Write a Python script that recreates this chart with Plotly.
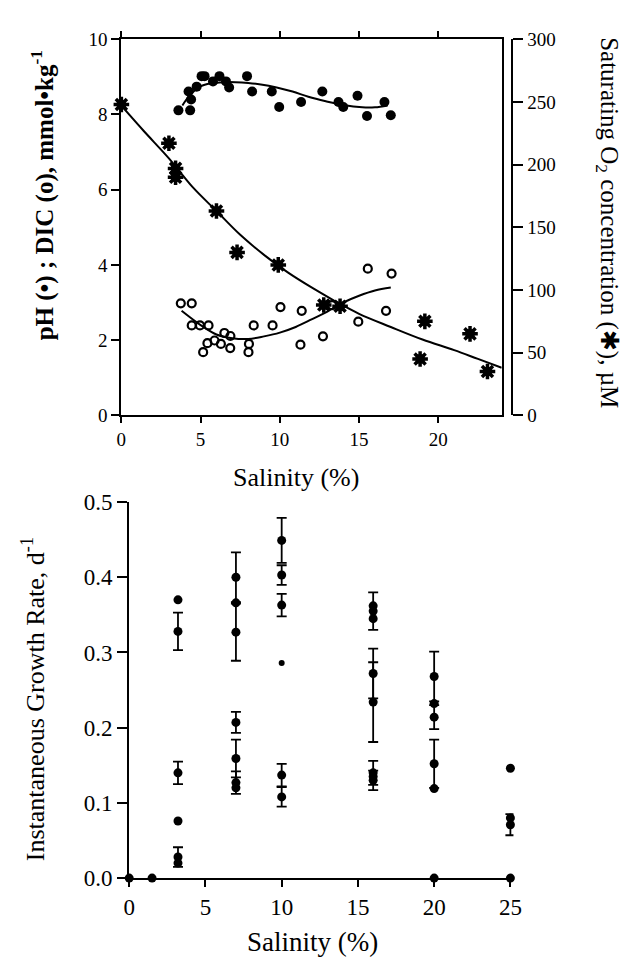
import plotly.graph_objects as go

W, H = 629, 971
FONT = "Liberation Serif"

# ---------------- upper panel: pH, DIC and saturating O2 vs salinity ----------------
ph_salinity = [3.6, 4.34, 4.24, 4.4, 4.75, 5.06, 5.25, 5.78, 6.19, 6.6, 6.8, 7.93, 8.25,
               9.49, 9.96, 11.34, 12.68, 13.7, 14.0, 14.9, 15.5, 16.6, 17.0]
ph_values = [8.11, 8.11, 8.61, 8.4, 8.74, 9.02, 9.02, 8.88, 9.02, 8.88, 8.72, 9.02, 8.61,
             8.61, 8.2, 8.33, 8.61, 8.33, 8.2, 8.5, 7.96, 8.33, 7.98]

dic_salinity = [3.75, 4.44, 4.44, 4.96, 5.5, 5.16, 5.43, 5.88, 6.28, 6.5, 6.88, 6.87, 8.05,
                8.02, 8.35, 9.54, 10.04, 11.38, 11.3, 12.72, 13.3, 14.95, 15.55, 16.7, 17.05]
dic_values = [2.98, 2.98, 2.39, 2.39, 2.39, 1.68, 1.92, 1.99, 1.9, 2.19, 2.11, 1.79, 1.9,
              1.68, 2.39, 2.39, 2.88, 2.78, 1.88, 2.1, 2.93, 2.49, 3.9, 2.78, 3.77]

o2_salinity = [0.0, 3.0, 3.42, 3.42, 6.0, 7.3, 9.9, 12.77, 13.8, 19.15, 18.85, 22.0, 23.1]
o2_values = [248, 217, 197, 190, 163, 130, 120, 88, 87, 75, 45, 65, 35]

# fitted trend lines
ph_fit_x = [3.85, 4.3, 4.9, 5.7, 6.5, 7.2, 8.0, 8.8, 9.8, 10.8, 11.8, 12.9, 14.0, 15.2, 16.0, 16.8]
ph_fit_y = [8.24, 8.5, 8.73, 8.83, 8.86, 8.86, 8.84, 8.8, 8.72, 8.61, 8.47, 8.35, 8.25, 8.19, 8.19, 8.24]

dic_fit_x = [3.8, 5.0, 6.0, 7.0, 8.0, 9.0, 10.0, 11.0, 12.0, 13.0, 14.0, 15.0, 16.0, 17.0]
dic_fit_y = [2.78, 2.4, 2.15, 2.05, 2.03, 2.1, 2.2, 2.35, 2.55, 2.76, 3.0, 3.18, 3.32, 3.4]

o2_fit_x = [0, 1.4, 3.0, 4.5, 6.0, 7.5, 9.0, 10.5, 12.0, 13.5, 15.0, 17.0, 19.0, 21.0, 22.5, 24.0]
o2_fit_y = [247, 227, 205, 182, 163, 144, 128, 114, 102, 91, 81, 70.5, 60.5, 52, 45, 38]

top_x_ticks = [0, 5, 10, 15, 20]
left_y_ticks = [0, 2, 4, 6, 8, 10]
right_y_ticks = [0, 50, 100, 150, 200, 250, 300]

# ---------------- lower panel: instantaneous growth rate ----------------
# means with symmetric error bars
rate_err_salinity = [3.2, 3.2, 3.2, 7, 7, 7, 7, 7, 10, 10, 10, 10, 10,
                     16, 16, 16, 16, 16, 20, 20, 20, 25]
rate_err_values = [0.328, 0.140, 0.028, 0.400, 0.327, 0.207, 0.159, 0.127, 0.449, 0.403, 0.363, 0.137, 0.108,
                   0.355, 0.272, 0.234, 0.140, 0.130, 0.268, 0.214, 0.152, 0.071]
rate_err = [0.025, 0.015, 0.013, 0.033, 0.038, 0.014, 0.025, 0.015, 0.030, 0.013, 0.015, 0.015, 0.013,
            0.025, 0.033, 0.053, 0.016, 0.013, 0.033, 0.016, 0.032, 0.014]

# single determinations
rate_salinity = [0, 1.5, 3.2, 3.2, 3.2, 7, 7, 16, 16, 16, 20, 20, 20, 25, 25, 25]
rate_values = [0.0, 0.0, 0.370, 0.076, 0.020, 0.366, 0.120, 0.345, 0.362, 0.135,
               0.232, 0.119, 0.0, 0.146, 0.080, 0.0]
rate_small_salinity = [10]
rate_small_values = [0.286]

bottom_x_ticks = [0, 5, 10, 15, 20, 25]
bottom_y_ticks = [0.0, 0.1, 0.2, 0.3, 0.4, 0.5]

fig = go.Figure()

line_style = dict(color="black", width=2, shape="spline", smoothing=1.0)

fig.add_trace(go.Scatter(x=o2_fit_x, y=o2_fit_y, mode="lines", line=line_style,
                         xaxis="x", yaxis="y2", hoverinfo="skip"))
fig.add_trace(go.Scatter(x=ph_fit_x, y=ph_fit_y, mode="lines", line=line_style,
                         xaxis="x", yaxis="y", hoverinfo="skip"))
fig.add_trace(go.Scatter(x=dic_fit_x, y=dic_fit_y, mode="lines", line=line_style,
                         xaxis="x", yaxis="y", hoverinfo="skip"))

fig.add_trace(go.Scatter(x=ph_salinity, y=ph_values, mode="markers", xaxis="x", yaxis="y",
                         marker=dict(symbol="circle", size=10, color="black"), cliponaxis=False))
fig.add_trace(go.Scatter(x=dic_salinity, y=dic_values, mode="markers", xaxis="x", yaxis="y",
                         marker=dict(symbol="circle-open", size=8, color="black",
                                     line=dict(width=2.2, color="black")), cliponaxis=False))
# heavy asterisk: filled square core plus asterisk spokes
fig.add_trace(go.Scatter(x=o2_salinity, y=o2_values, mode="markers", xaxis="x", yaxis="y2",
                         marker=dict(symbol="square", size=9, color="black"), cliponaxis=False))
fig.add_trace(go.Scatter(x=o2_salinity, y=o2_values, mode="markers", xaxis="x", yaxis="y2",
                         marker=dict(symbol="asterisk-open", size=13, color="black",
                                     line=dict(width=3.5, color="black")), cliponaxis=False))

fig.add_trace(go.Scatter(x=rate_err_salinity, y=rate_err_values, mode="markers",
                         xaxis="x3", yaxis="y3",
                         error_y=dict(type="data", array=rate_err, visible=True,
                                      color="black", thickness=1.8, width=5),
                         marker=dict(symbol="circle", size=9, color="black"), cliponaxis=False))
fig.add_trace(go.Scatter(x=rate_salinity, y=rate_values, mode="markers",
                         xaxis="x3", yaxis="y3",
                         marker=dict(symbol="circle", size=9, color="black"), cliponaxis=False))
fig.add_trace(go.Scatter(x=rate_small_salinity, y=rate_small_values, mode="markers",
                         xaxis="x3", yaxis="y3",
                         marker=dict(symbol="circle", size=6, color="black"), cliponaxis=False))

axis_common = dict(showgrid=False, zeroline=False, showline=True, linecolor="black",
                   linewidth=2, ticks="outside", tickcolor="black", tickwidth=2,
                   tickfont=dict(family=FONT, size=19, color="black"))

fig.update_layout(
    width=W, height=H, showlegend=False,
    margin=dict(l=0, r=0, t=0, b=0, pad=0),
    paper_bgcolor="white", plot_bgcolor="white",
    xaxis=dict(**axis_common, domain=[118 / W, 507 / W], range=[0, 24], anchor="y",
               tickvals=top_x_ticks, ticklen=6, mirror="ticks"),
    yaxis=dict(**axis_common, domain=[1 - 414 / H, 1 - 28 / H], range=[0, 10], anchor="x",
               tickvals=left_y_ticks, ticklen=8, mirror=True),
    yaxis2=dict(**axis_common, overlaying="y", side="right", anchor="free",
                position=518 / W, range=[0, 300], tickvals=right_y_ticks, ticklen=10),
    xaxis3=dict(**{**axis_common, "tickfont": dict(family=FONT, size=23, color="black")},
                domain=[126 / W, 519 / W], range=[0, 25.2], anchor="y3",
                tickvals=bottom_x_ticks, ticklen=7),
    yaxis3=dict(**{**axis_common, "tickfont": dict(family=FONT, size=23, color="black")},
                domain=[1 - 889 / H, 1 - 503 / H], range=[0, 0.5], anchor="x3",
                tickvals=bottom_y_ticks, tickformat=".1f", ticklen=10),
)

annotations = [
    dict(text="<b>pH (•) ; DIC (ο), mmol•kg<sup>-1</sup></b>", x=37 / W, y=1 - 188 / H,
         textangle=-90, font=dict(size=25)),
    dict(text="Saturating O<sub>2</sub> concentration (✱), µM", x=615 / W, y=1 - 216 / H,
         textangle=90, font=dict(size=25)),
    dict(text="Salinity (%)", x=297 / W, y=1 - 478 / H, font=dict(size=26)),
    dict(text="Instantaneous Growth Rate, d<sup>-1</sup>", x=29 / W, y=1 - 705 / H,
         textangle=-90, font=dict(size=26)),
    dict(text="Salinity (%)", x=313 / W, y=1 - 955 / H, font=dict(size=27)),
]
for a in annotations:
    a.update(xref="paper", yref="paper", showarrow=False, xanchor="center", yanchor="middle")
    a["font"] = dict(family=FONT, color="black", **a["font"])
fig.update_layout(annotations=annotations)

fig.write_html("out.html")
